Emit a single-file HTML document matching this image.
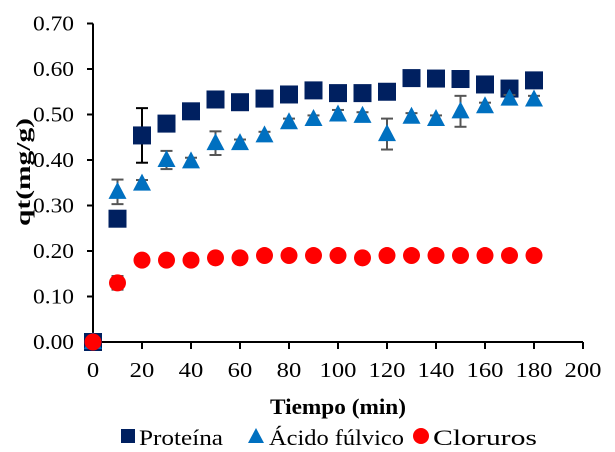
<!DOCTYPE html>
<html><head><meta charset="utf-8"><style>
body{margin:0;background:#fff}
svg text{font-family:"Liberation Serif",serif;fill:#000}
</style></head><body>
<svg width="615" height="447" id="c">
</svg>
<script>
const times=[0,10,20,30,40,50,60,70,80,90,100,110,120,130,140,150,160,170,180];
const proteina=[0,0.271,0.454,0.48,0.507,0.533,0.527,0.535,0.544,0.553,0.547,0.547,0.55,0.58,0.579,0.578,0.566,0.557,0.575];
const proteinaErr=[0,0.005,0.06,0.01,0.005,0.005,0.005,0.005,0.005,0.012,0.005,0.005,0.005,0.012,0.005,0.005,0.005,0.005,0.005];
const fulvico=[0,0.33,0.348,0.40,0.397,0.437,0.437,0.454,0.483,0.49,0.50,0.497,0.457,0.495,0.49,0.507,0.518,0.535,0.533];
const fulvicoErr=[0,0.027,0.008,0.02,0.008,0.026,0.008,0.008,0.008,0.008,0.01,0.008,0.034,0.008,0.008,0.034,0.008,0.008,0.008];
const cloruros=[0,0.13,0.18,0.18,0.18,0.185,0.185,0.19,0.19,0.19,0.19,0.185,0.19,0.19,0.19,0.19,0.19,0.19,0.19];
const clorurosErr=[0,0.015,0,0,0,0,0,0,0,0,0,0,0,0,0,0,0,0,0];
const xTicks=[0,20,40,60,80,100,120,140,160,180,200];
const yTicks=[0,0.1,0.2,0.3,0.4,0.5,0.6,0.7];
const X=v=>93+v*2.45, Y=v=>342-v*455;
const svg=document.getElementById('c');const NS='http://www.w3.org/2000/svg';
function mk(t,a,p){const e=document.createElementNS(NS,t);for(const k in a)e.setAttribute(k,a[k]);(p||svg).appendChild(e);return e;}
let e;
e=mk('line',{x1:93,y1:Y(0.7),x2:93,y2:342,stroke:'#000','stroke-width':2});


e=mk('line',{x1:93,y1:342,x2:X(200),y2:342,stroke:'#000','stroke-width':2});


yTicks.forEach(v=>{mk('line',{x1:87,y1:Y(v),x2:93,y2:Y(v),stroke:'#000','stroke-width':2});
 e=mk('text',{x:33,y:Y(v)+7,'font-size':21,textLength:41,lengthAdjust:'spacingAndGlyphs'});e.textContent=v.toFixed(2);
 
 });
xTicks.forEach(v=>{mk('line',{x1:X(v),y1:342,x2:X(v),y2:349,stroke:'#000','stroke-width':2});
 const s=String(v);const w=s.length*12.3;
 e=mk('text',{x:X(v)-w/2,y:377,'font-size':21,textLength:w,lengthAdjust:'spacingAndGlyphs'});e.textContent=s;
 
 });
e=mk('text',{x:0,y:0,'font-size':20,'font-weight':'bold',textLength:108,lengthAdjust:'spacingAndGlyphs',transform:'translate(30 226) rotate(-90)'});e.textContent='qt(mg/g)';


e=mk('text',{x:270,y:414,'font-size':22,'font-weight':'bold',textLength:136,lengthAdjust:'spacingAndGlyphs'});e.textContent='Tiempo (min)';


function err(vals,errs,col){times.forEach((t,i)=>{if(errs[i]<=0)return;const x=X(t),a=Y(vals[i]+errs[i]),b=Y(vals[i]-errs[i]);
 const g=mk('g',{stroke:col,'stroke-width':2});
 
 
 mk('line',{x1:x,y1:a,x2:x,y2:b},g);mk('line',{x1:x-6,y1:a,x2:x+6,y2:a},g);mk('line',{x1:x-6,y1:b,x2:x+6,y2:b},g);});}
err(proteina,proteinaErr,'#000');
times.forEach((t,i)=>{e=mk('rect',{x:X(t)-9,y:Y(proteina[i])-9,width:18,height:18,fill:'#002060'});
 
 });
err(fulvico,fulvicoErr,'#555');
times.forEach((t,i)=>{const x=X(t),y=Y(fulvico[i]);e=mk('polygon',{points:`${x},${y-10} ${x+9},${y+7} ${x-9},${y+7}`,fill:'#0070c0'});
 
 });
err(cloruros,clorurosErr,'#555');
times.forEach((t,i)=>{e=mk('circle',{cx:X(t),cy:Y(cloruros[i]),r:8.5,fill:'#ff0000'});
 
 });
// legend
e=mk('rect',{x:121,y:429,width:14,height:14,fill:'#002060'});


e=mk('text',{x:139,y:445,'font-size':22,textLength:84,lengthAdjust:'spacingAndGlyphs'});e.textContent='Proteína';


e=mk('polygon',{points:'256,428 264,443 248,443',fill:'#0070c0'});


e=mk('text',{x:269,y:445,'font-size':22,textLength:135,lengthAdjust:'spacingAndGlyphs'});e.textContent='Ácido fúlvico';


e=mk('circle',{cx:421,cy:436,r:8,fill:'#ff0000'});


e=mk('text',{x:433,y:445,'font-size':22,textLength:104,lengthAdjust:'spacingAndGlyphs'});e.textContent='Cloruros';


</script>
</body></html>
